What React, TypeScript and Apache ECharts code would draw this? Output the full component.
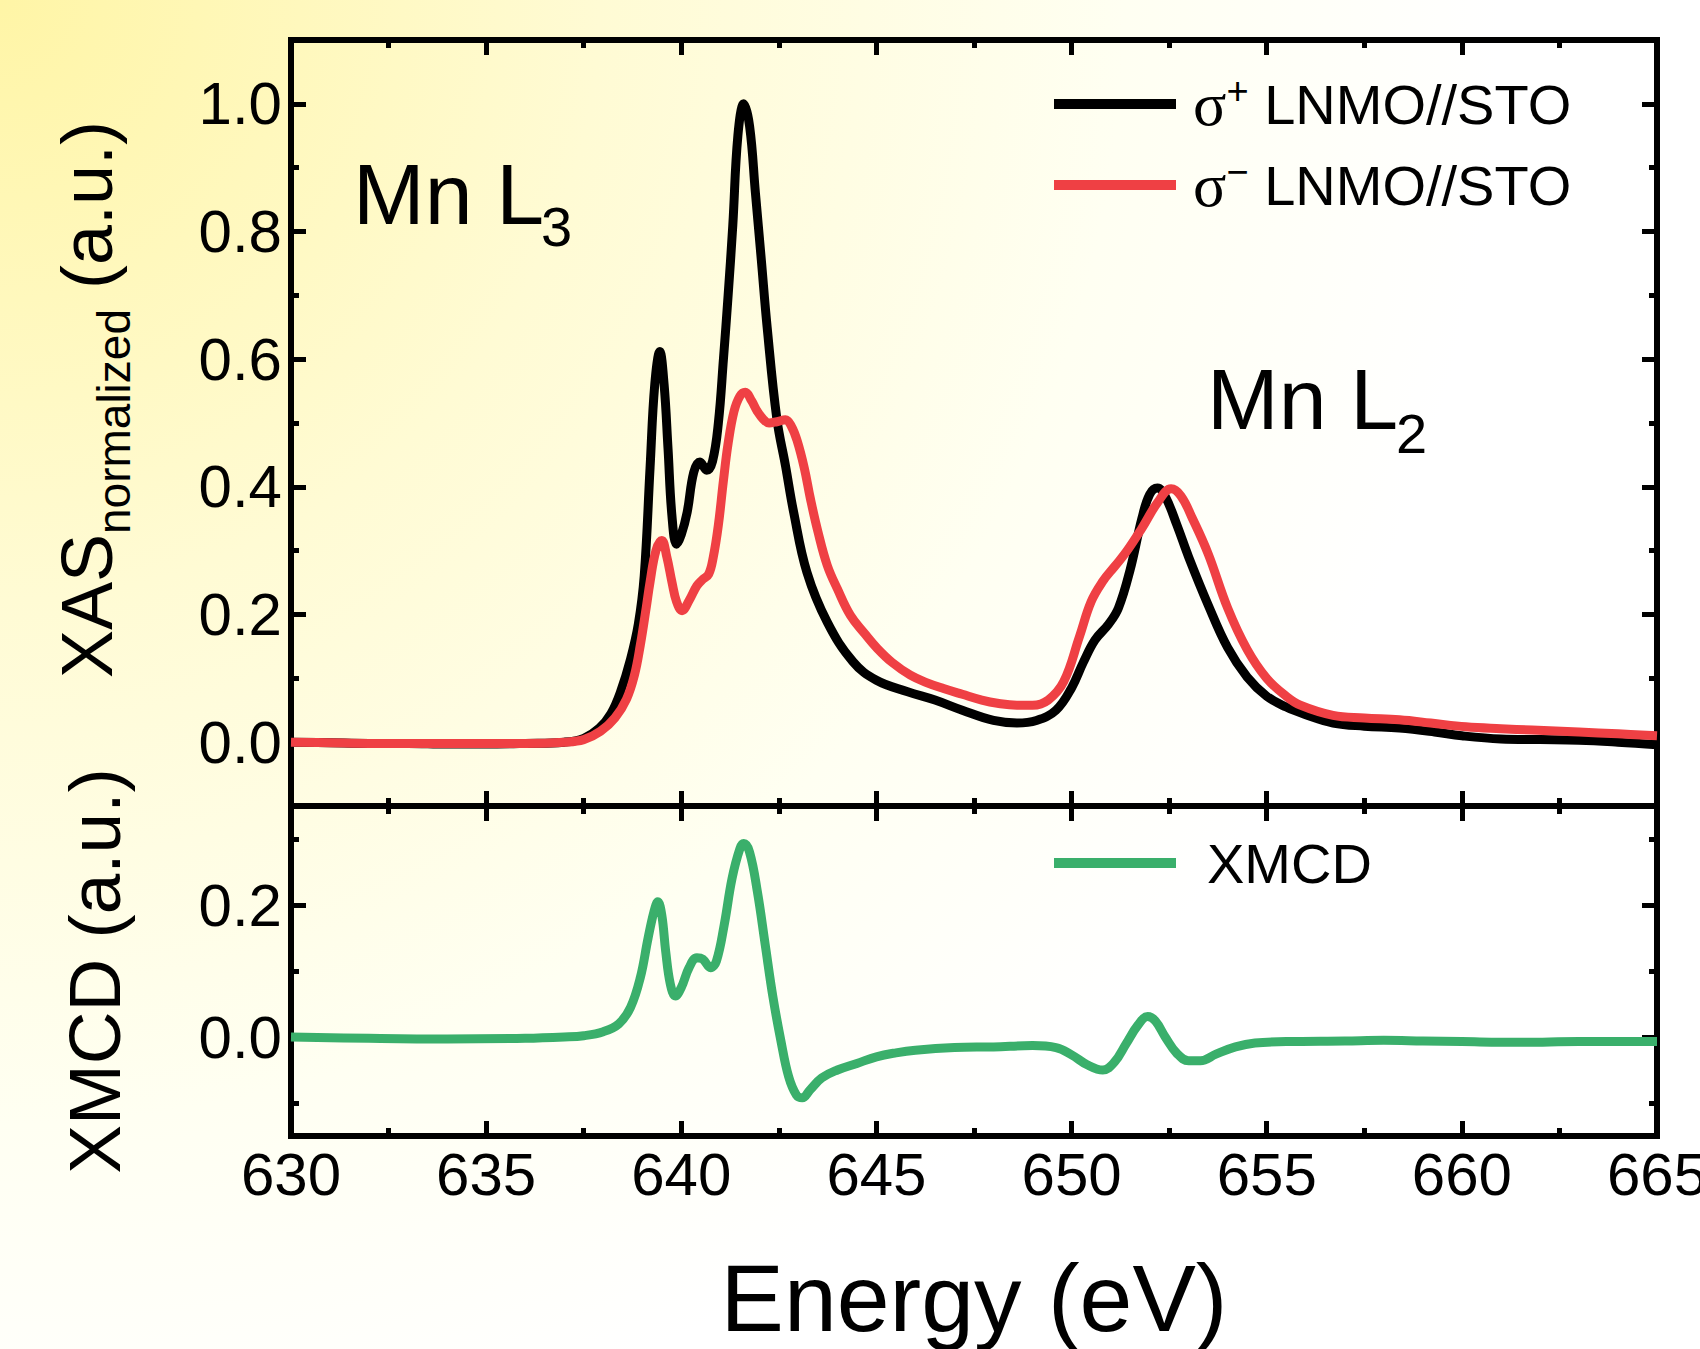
import React, { useEffect, useRef } from "react";
import * as echarts from "echarts";

// ---------------- data ----------------
const sigmaPlusE = [
  630.0, 631.0, 632.0, 633.0, 634.0, 635.0, 636.0, 637.0, 637.5, 637.9, 638.2, 638.45, 638.7, 638.9, 639.05, 639.2,
  639.32, 639.45, 639.56, 639.66, 639.76, 639.88, 640.0, 640.15, 640.32, 640.48, 640.65, 640.8, 640.95, 641.08, 641.2,
  641.32, 641.45, 641.6, 641.75, 641.9, 642.05, 642.2, 642.45, 642.67, 642.88, 643.22, 643.74, 644.4, 645.0, 645.8,
  646.5, 647.2, 648.0, 648.6, 649.1, 649.6, 650.0, 650.3, 650.6, 650.95, 651.2, 651.5, 651.8, 652.0, 652.2, 652.4,
  652.7, 653.0, 653.5, 654.0, 654.5, 655.0, 655.5, 656.0, 656.7, 657.5, 658.4, 659.3, 660.0, 661.0, 662.0, 663.0,
  664.0, 665.0,
];
const sigmaPlusV = [
  0.0, -0.001, -0.002, -0.002, -0.003, -0.003, -0.002, 0.0, 0.006, 0.022, 0.045, 0.08, 0.13, 0.185, 0.26, 0.43,
  0.56, 0.612, 0.56, 0.46, 0.355, 0.31, 0.325, 0.36, 0.423, 0.439, 0.426, 0.44, 0.5, 0.6, 0.7,
  0.81, 0.95, 1.0, 0.965, 0.86, 0.756, 0.65, 0.506, 0.433, 0.36, 0.266, 0.188, 0.126, 0.097, 0.079,
  0.066, 0.05, 0.034, 0.03, 0.034, 0.05, 0.085, 0.125, 0.16, 0.185, 0.21, 0.27, 0.35, 0.388, 0.398, 0.385,
  0.34, 0.29, 0.215, 0.148, 0.102, 0.072, 0.055, 0.043, 0.03, 0.025, 0.022, 0.016, 0.01, 0.005, 0.004, 0.003,
  0.0, -0.004,
];

const sigmaMinusE = [
  630.0, 631.0, 632.0, 633.0, 634.0, 635.0, 636.0, 637.0, 637.5, 637.93, 638.3, 638.6, 638.8, 638.95, 639.1, 639.2,
  639.35, 639.5, 639.63, 639.76, 639.88, 640.02, 640.2, 640.4, 640.55, 640.7, 640.82, 640.95, 641.08, 641.2, 641.35,
  641.5, 641.64, 641.8, 641.95, 642.1, 642.25, 642.45, 642.67, 642.82, 642.97, 643.15, 643.31, 643.5, 643.74, 644.0,
  644.33, 644.7, 645.02, 645.4, 645.87, 646.3, 646.72, 647.2, 647.7, 648.1, 648.6, 649.0, 649.4, 649.8, 650.2,
  650.5, 650.8, 651.1, 651.4, 651.8, 652.2, 652.55, 652.8, 653.1, 653.5, 654.0, 654.5, 655.0, 655.5, 655.86, 656.7,
  657.5, 658.4, 659.2, 660.1, 661.0, 661.8, 663.0, 664.0, 665.0,
];
const sigmaMinusV = [
  0.0, -0.001, -0.002, -0.002, -0.002, -0.002, -0.002, 0.0, 0.004, 0.017, 0.038, 0.068, 0.105, 0.152, 0.21, 0.251,
  0.3, 0.316, 0.29, 0.251, 0.22, 0.206, 0.222, 0.245, 0.255, 0.263, 0.29, 0.34, 0.41, 0.468, 0.518,
  0.542, 0.548, 0.535, 0.518, 0.506, 0.5, 0.502, 0.505, 0.495, 0.472, 0.43, 0.381, 0.33, 0.277, 0.24,
  0.199, 0.17, 0.147, 0.125, 0.105, 0.093, 0.084, 0.075, 0.066, 0.061, 0.058, 0.058, 0.066, 0.095, 0.165,
  0.22, 0.252, 0.275, 0.298, 0.335, 0.375, 0.397, 0.386, 0.35, 0.295, 0.21, 0.145, 0.1, 0.072, 0.058, 0.042,
  0.038, 0.035, 0.03, 0.024, 0.021, 0.019, 0.016, 0.013, 0.01,
];

const xmcdE = [
  630.0, 632.0, 634.0, 636.0, 637.0, 637.5, 638.0, 638.4, 638.7, 638.95, 639.15, 639.3, 639.4, 639.5, 639.6, 639.72,
  639.85, 640.0, 640.2, 640.4, 640.55, 640.75, 640.9, 641.1, 641.3, 641.5, 641.6, 641.75, 641.95, 642.15, 642.35,
  642.55, 642.75, 642.95, 643.1, 643.3, 643.6, 644.0, 644.5, 645.0, 645.5, 646.0, 647.0, 648.0, 649.0, 649.6, 650.0,
  650.4, 650.8, 651.1, 651.4, 651.7, 651.95, 652.15, 652.4, 652.7, 653.0, 653.3, 653.7, 654.2, 654.7, 655.5, 657.0,
  658.0, 659.0, 660.0, 661.5, 663.0, 665.0,
];
const xmcdV = [
  0.0, -0.002, -0.003, -0.002, 0.0, 0.002, 0.008, 0.02, 0.045, 0.09, 0.15, 0.19, 0.205, 0.185, 0.13, 0.08,
  0.062, 0.075, 0.105, 0.12, 0.118, 0.105, 0.115, 0.17, 0.24, 0.285, 0.293, 0.28, 0.22, 0.14, 0.06,
  -0.005, -0.06, -0.088, -0.092, -0.08, -0.062, -0.05, -0.04, -0.03, -0.024, -0.02, -0.016, -0.015, -0.013, -0.016, -0.027,
  -0.042, -0.05, -0.038, -0.01, 0.018, 0.031, 0.024, 0.0, -0.025, -0.036, -0.036, -0.026, -0.015, -0.009, -0.007, -0.006,
  -0.005, -0.006, -0.007, -0.008, -0.007, -0.007,
];

const xasMajorTicks = [0, 0.2, 0.4, 0.6, 0.8, 1.0];
const xasMinorTicks = [-0.1, 0.1, 0.3, 0.5, 0.7, 0.9];
const xmcdMajorTicks = [0, 0.2];
const xmcdMinorTicks = [-0.1, 0.1, 0.3];

const seriesNames = ["σ+ LNMO//STO", "σ− LNMO//STO", "XMCD"];
const seriesColors = ["#000000", "#EF4044", "#3AAF6B"];

// ---------------- layout / style ----------------
const FONT = "Liberation Sans";
const GRID_LEFT = 291;
const GRID_W = 1366;
const TOP_Y = 40;
const MID_Y = 806;
const BOT_Y = 1136;

const zip = (xs: number[], ys: number[]) => xs.map((x, i) => [x, ys[i]]);

const frameLine = { show: true, onZero: false, lineStyle: { color: "#000", width: 6, cap: "square" } };
const noLine = { show: false, onZero: false };

function xAxisDef(gridIndex: number, position: string, showLabels: boolean, extra: any = {}) {
  return {
    type: "value",
    gridIndex,
    position,
    min: 630,
    max: 665,
    interval: 5,
    axisLine: frameLine,
    splitLine: { show: false },
    axisTick: { show: true, inside: true, length: 15, lineStyle: { color: "#000", width: 5 } },
    minorTick: { show: true, splitNumber: 2, length: 8, lineStyle: { color: "#000", width: 5 } },
    axisLabel: showLabels
      ? { show: true, margin: 8, fontSize: 60, fontFamily: FONT, color: "#000", hideOverlap: false }
      : { show: false },
    ...extra,
  };
}

function yAxisDef(
  gridIndex: number,
  position: string,
  min: number,
  max: number,
  ticks: number[],
  major: boolean,
  showLabels: boolean,
  extra: any = {}
) {
  return {
    type: "value",
    gridIndex,
    position,
    min,
    max,
    axisLine: major ? frameLine : noLine,
    splitLine: { show: false },
    axisTick: {
      show: true,
      inside: true,
      length: major ? 15 : 8,
      customValues: ticks,
      lineStyle: { color: "#000", width: 5 },
    },
    axisLabel: showLabels
      ? {
          show: true,
          customValues: ticks,
          margin: 9,
          fontSize: 60,
          fontFamily: FONT,
          color: "#000",
          formatter: (v: number) => v.toFixed(1),
        }
      : { show: false },
    ...extra,
  };
}

const legendRich = {
  s: { fontFamily: "Liberation Serif", fontSize: 62, lineHeight: 64, color: "#000" },
  p: { fontFamily: FONT, fontSize: 38, lineHeight: 40, verticalAlign: "top", color: "#000" },
  t: { fontFamily: FONT, fontSize: 56, lineHeight: 64, color: "#000" },
};

function legendFormatter(name: string) {
  if (name === seriesNames[0]) return "{s|σ}{p|+}{t| LNMO//STO}";
  if (name === seriesNames[1]) return "{s|σ}{p|−}{t| LNMO//STO}";
  return "{t|" + name + "}";
}

const textStyleBase = { fontFamily: FONT, fill: "#000", textAlign: "left", textVerticalAlign: "middle", align: "left", verticalAlign: "middle" };

export default function App() {
  const ref = useRef<HTMLDivElement>(null);

  useEffect(() => {
    if (!ref.current) return;
    const chart = echarts.init(ref.current, null, { renderer: "svg" });

    const option: any = {
      animation: false,
      backgroundColor: "transparent",
      grid: [
        { left: GRID_LEFT, top: TOP_Y, width: GRID_W, height: MID_Y - TOP_Y, show: false, containLabel: false, outerBoundsMode: "none" },
        { left: GRID_LEFT, top: MID_Y, width: GRID_W, height: BOT_Y - MID_Y, show: false, containLabel: false, outerBoundsMode: "none" },
      ],
      xAxis: [
        xAxisDef(0, "bottom", false),
        xAxisDef(0, "top", false),
        xAxisDef(1, "bottom", true, {
          name: "Energy (eV)",
          nameLocation: "middle",
          nameGap: 114,
          nameTextStyle: { fontSize: 95, fontFamily: FONT, color: "#000" },
        }),
        xAxisDef(1, "top", false),
      ],
      yAxis: [
        yAxisDef(0, "left", -0.1, 1.1, xasMajorTicks, true, true),
        yAxisDef(0, "left", -0.1, 1.1, xasMinorTicks, false, false),
        yAxisDef(0, "right", -0.1, 1.1, xasMajorTicks, true, false),
        yAxisDef(0, "right", -0.1, 1.1, xasMinorTicks, false, false),
        yAxisDef(1, "left", -0.15, 0.35, xmcdMajorTicks, true, true, {
          name: "XMCD (a.u.)",
          nameLocation: "middle",
          nameRotate: 90,
          nameGap: 160,
          nameTextStyle: { fontSize: 73, fontFamily: FONT, color: "#000" },
        }),
        yAxisDef(1, "left", -0.15, 0.35, xmcdMinorTicks, false, false),
        yAxisDef(1, "right", -0.15, 0.35, xmcdMajorTicks, true, false),
        yAxisDef(1, "right", -0.15, 0.35, xmcdMinorTicks, false, false),
      ],
      legend: [
        {
          data: [seriesNames[0], seriesNames[1]],
          orient: "vertical",
          left: 1054,
          top: 72,
          padding: 0,
          itemWidth: 122,
          itemHeight: 10,
          itemGap: 18,
          icon: "rect",
          selectedMode: false,
          formatter: legendFormatter,
          textStyle: { color: "#000", fontFamily: FONT, fontSize: 56, padding: [0, 0, 0, 12], rich: legendRich },
        },
        {
          data: [seriesNames[2]],
          orient: "vertical",
          left: 1054,
          top: 835,
          padding: 0,
          itemWidth: 122,
          itemHeight: 10,
          icon: "rect",
          selectedMode: false,
          formatter: legendFormatter,
          textStyle: { color: "#000", fontFamily: FONT, fontSize: 56, padding: [0, 0, 0, 26], rich: legendRich },
        },
      ],
      graphic: [
        {
          type: "rect",
          z: -100,
          silent: true,
          shape: { x: 0, y: 0, width: 1700, height: 1349 },
          style: {
            fill: {
              type: "radial",
              x: 0,
              y: 0,
              r: 1500,
              global: true,
              colorStops: [
                { offset: 0, color: "#FFF5A6" },
                { offset: 0.4, color: "#FFFBD4" },
                { offset: 0.75, color: "#FFFFF2" },
                { offset: 1, color: "#FFFFFF" },
              ],
            },
          },
        },
        // y-axis title of the upper panel (with subscript)
        { type: "text", x: 87, y: 678, rotation: Math.PI / 2, style: { ...textStyleBase, text: "XAS", fontSize: 72 } },
        { type: "text", x: 114, y: 534, rotation: Math.PI / 2, style: { ...textStyleBase, text: "normalized", fontSize: 46 } },
        { type: "text", x: 87, y: 309, rotation: Math.PI / 2, style: { ...textStyleBase, text: " (a.u.)", fontSize: 72 } },
        // annotations
        { type: "text", x: 353, y: 194, style: { ...textStyleBase, text: "Mn L", fontSize: 86 } },
        { type: "text", x: 541, y: 226, style: { ...textStyleBase, text: "3", fontSize: 56 } },
        { type: "text", x: 1207, y: 399, style: { ...textStyleBase, text: "Mn L", fontSize: 86 } },
        { type: "text", x: 1396, y: 433, style: { ...textStyleBase, text: "2", fontSize: 56 } },
      ],
      series: [
        {
          type: "line",
          name: seriesNames[0],
          xAxisIndex: 0,
          yAxisIndex: 0,
          data: zip(sigmaPlusE, sigmaPlusV),
          showSymbol: false,
          smooth: 0.4,
          color: seriesColors[0],
          lineStyle: { color: seriesColors[0], width: 9, join: "round" },
          z: 3,
        },
        {
          type: "line",
          name: seriesNames[1],
          xAxisIndex: 0,
          yAxisIndex: 0,
          data: zip(sigmaMinusE, sigmaMinusV),
          showSymbol: false,
          smooth: 0.4,
          color: seriesColors[1],
          lineStyle: { color: seriesColors[1], width: 9, join: "round" },
          z: 4,
        },
        {
          type: "line",
          name: seriesNames[2],
          xAxisIndex: 2,
          yAxisIndex: 4,
          data: zip(xmcdE, xmcdV),
          showSymbol: false,
          smooth: 0.4,
          color: seriesColors[2],
          lineStyle: { color: seriesColors[2], width: 9, join: "round" },
          z: 3,
        },
      ],
    };

    chart.setOption(option);
    return () => chart.dispose();
  }, []);

  return <div ref={ref} style={{ position: "absolute", left: 0, top: 0, width: 1700, height: 1349 }} />;
}
